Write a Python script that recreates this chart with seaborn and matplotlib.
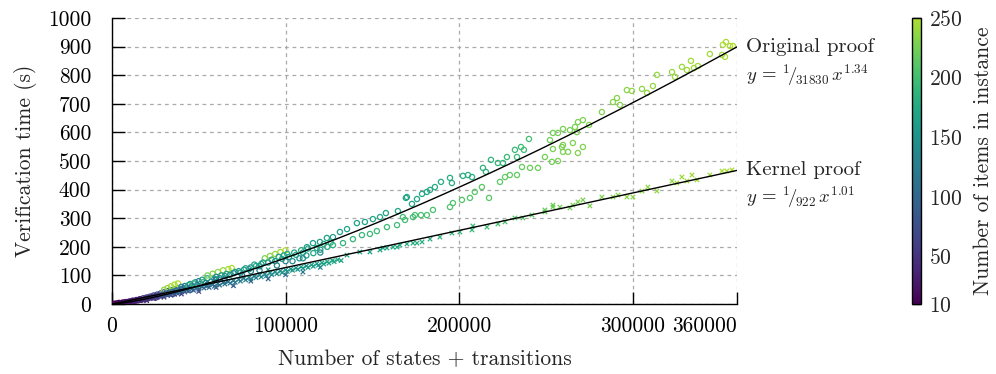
import numpy as np
import pandas as pd
import matplotlib
matplotlib.use("Agg")
import matplotlib.pyplot as plt
from matplotlib.colors import ListedColormap
import seaborn as sns

# ---------------------------------------------------------------
# Data (x = states + transitions,
# y = verification time in s, n = number of items in instance)

# Original proof
orig_x = [1000, 2500, 4000, 6000, 8000, 10000, 12000, 14000, 16000, 18000,
          20000, 22000, 24000, 26000, 28000, 30000, 32000, 34000, 36000, 38000,
          30000, 32000, 34000, 36000, 38000, 40000, 42000, 45000, 48000, 50000,
          52000, 55000, 55000, 58000, 61000, 64000, 67000, 69000, 60000, 63000,
          66000, 70000, 73000, 76000, 80000, 83000, 86000, 88000, 91000, 94000,
          97000, 100000, 90000, 94000, 98000, 102000, 106000, 110000, 104000, 108000,
          112000, 116000, 120000, 124000, 20000, 40000, 60000, 80000, 100000, 120000,
          5000, 7000, 9000, 11000, 13000, 15000, 17000, 19000, 21000, 23000,
          25000, 27000, 29000, 31000, 33000, 35000, 37000, 39000, 41000, 43000,
          44000, 46000, 47000, 49000, 51000, 53000, 54000, 57000, 59000, 62000,
          65000, 68000, 71000, 74000, 77000, 79000, 82000, 85000, 87000, 92000,
          96000, 99000, 101000, 105000, 109000, 113000, 118000, 122000, 126000,
          25000, 35000, 45000, 55000, 65000, 75000, 85000, 95000, 110000,
          # upper branch
          112300, 115800, 119800, 123800, 127300, 131300, 135400, 141100, 145700, 150300,
          154400, 157800, 164700, 169300, 169900, 172800, 175700, 178600, 181400, 183200,
          186000, 189500, 194700, 195800, 202200, 205100, 207400, 213700, 215400, 218300,
          222300, 225200, 227500, 232100, 233300, 235600, 237300, 240200,
          # top end
          252300, 254000, 256900, 259800, 263800, 266700, 267800, 268400, 271300, 274800,
          282200, 288600, 290900, 292600, 296600, 299500, 305300, 308200, 311600, 313900,
          322600, 324300, 328300, 331200, 333500, 335200, 337500, 344400, 351400, 353100,
          351900, 353700, 356000, 357700,
          # lower branch
          127300, 133100, 138800, 144000, 148600, 152600, 158400, 164200, 168800, 174500,
          167600, 173400, 178000, 181400, 184900, 194700, 196400, 201600, 206200, 209000,
          213100, 217200, 223500, 226400, 229200, 233300, 236200, 240800, 245400, 249400,
          253400, 256900, 259800, 262700, 265500, 268400, 259200, 254000, 271300, 259800]
orig_y = [1, 2, 4, 5, 7, 9, 12, 14, 17, 20,
          23, 26, 30, 33, 37, 41, 45, 48, 52, 56,
          50, 56, 62, 68, 72, 60, 63, 70, 76, 80,
          85, 90, 100, 106, 112, 118, 122, 126, 95, 100,
          105, 108, 115, 120, 128, 133, 140, 160, 168, 175,
          182, 188, 145, 150, 158, 165, 172, 180, 150, 160,
          170, 178, 190, 200, 18, 50, 85, 115, 150, 180,
          3, 5, 6, 8, 10, 13, 15, 17, 21, 24,
          27, 30, 32, 36, 40, 43, 47, 50, 54, 58,
          66, 62, 72, 66, 70, 78, 74, 78, 88, 90,
          98, 102, 112, 110, 125, 122, 138, 132, 145, 155,
          165, 170, 175, 180, 188, 194, 196, 210, 215,
          22, 35, 50, 68, 85, 100, 118, 135, 160,
          199, 213, 217, 231, 234, 252, 262, 283, 287, 297,
          304, 318, 325, 371, 374, 350, 367, 385, 392, 399,
          409, 427, 441, 423, 448, 451, 444, 476, 462, 504,
          493, 493, 514, 539, 514, 549, 539, 577,
          573, 598, 598, 612, 608, 619, 601, 636, 643, 626,
          671, 706, 720, 696, 748, 745, 752, 738, 762, 801,
          811, 794, 829, 818, 850, 825, 832, 874, 871, 864,
          906, 916, 902, 902,
          206, 213, 227, 241, 245, 255, 269, 276, 294, 311,
          304, 304, 311, 311, 329, 339, 353, 364, 371, 392,
          409, 371, 427, 444, 451, 451, 479, 476, 476, 514,
          497, 500, 556, 532, 563, 528, 549, 542, 549, 532]
orig_n = [10, 12, 15, 20, 25, 28, 32, 38, 42, 48,
          55, 60, 66, 72, 80, 90, 100, 110, 120, 130,
          235, 240, 245, 248, 250, 135, 110, 140, 150, 120,
          160, 170, 225, 230, 235, 240, 245, 248, 140, 150,
          165, 130, 150, 160, 145, 165, 170, 230, 235, 240,
          245, 250, 150, 160, 170, 155, 175, 165, 140, 150,
          160, 170, 165, 175, 40, 80, 100, 120, 130, 140,
          14, 18, 22, 26, 30, 34, 38, 44, 50, 56,
          62, 68, 74, 82, 90, 96, 104, 110, 116, 122,
          175, 128, 185, 132, 136, 190, 140, 144, 150, 148,
          155, 152, 160, 155, 165, 160, 170, 158, 165, 170,
          168, 162, 170, 172, 175, 172, 178, 176, 180,
          50, 70, 85, 95, 105, 115, 125, 135, 145,
          160, 161, 162, 163, 164, 165, 166, 166, 167, 168,
          168, 169, 170, 170, 171, 172, 172, 173, 174, 175,
          176, 177, 178, 179, 180, 181, 182, 184, 185, 187,
          189, 190, 192, 194, 195, 197, 198, 200,
          222, 223, 224, 225, 226, 227, 227, 228, 229, 230,
          231, 232, 233, 233, 234, 235, 236, 237, 238, 239,
          240, 240, 241, 242, 243, 243, 244, 245, 246, 246,
          247, 248, 249, 250,
          185, 188, 190, 192, 193, 194, 196, 198, 199, 201,
          199, 201, 202, 203, 204, 206, 207, 208, 209, 210,
          211, 212, 214, 215, 216, 217, 219, 220, 221, 223,
          224, 225, 227, 228, 229, 230, 227, 225, 231, 228]

# Kernel proof
kern_x = [1000, 3000, 5000, 7000, 9000, 11000, 13000, 15000, 17000, 19000,
          21000, 23000, 25000, 27000, 29000, 31000, 33000, 35000, 37000, 40000,
          43000, 46000, 49000, 52000, 55000, 58000, 61000, 64000, 67000, 70000,
          73000, 76000, 79000, 82000, 85000, 88000, 91000, 94000, 97000, 100000,
          103000, 106000, 109000, 112000, 115000, 118000, 121000, 124000, 127000, 130000,
          20000, 40000, 60000, 80000, 100000, 30000, 60000, 90000,
          2000, 4000, 6000, 8000, 10000, 12000, 14000, 16000, 18000, 22000,
          24000, 26000, 28000, 32000, 34000, 36000, 38000, 42000, 44000, 47000,
          50000, 53000, 56000, 59000, 62000, 65000, 68000, 71000, 74000, 77000,
          80000, 83000, 86000, 89000, 92000, 95000, 98000, 101000, 104000, 107000,
          110000, 113000, 116000, 119000, 122000, 125000, 128000, 132000,
          30000, 50000, 70000, 90000, 110000, 120000,
          135400, 142800, 148600, 154400, 158400, 164200, 169900, 175700,
          156100, 161900, 165900, 173400, 178600, 183200, 188900, 195800, 200400, 207400,
          207900, 216000, 222300, 226400, 232100, 236700, 241900, 249400, 254000,
          249400, 254000, 258000, 263800, 265500, 268400, 271300, 275300, 282200, 288600,
          291500, 296600, 300100, 305300, 308700, 313900, 322600, 325400, 328300, 331200,
          334100, 337000, 344400, 351400, 354200, 357100]
kern_y = [1, 3, 4, 6, 8, 10, 12, 14, 16, 18,
          21, 23, 26, 28, 30, 33, 35, 38, 40, 44,
          48, 52, 56, 60, 64, 67, 71, 75, 78, 82,
          86, 90, 93, 97, 101, 104, 108, 112, 115, 119,
          122, 126, 130, 133, 137, 141, 144, 148, 152, 155,
          12, 35, 58, 80, 102, 38, 78, 120,
          2, 3, 5, 7, 8, 10, 12, 14, 15, 19,
          22, 23, 25, 30, 31, 34, 36, 42, 45, 48,
          52, 56, 58, 62, 66, 70, 73, 76, 80, 84,
          88, 92, 95, 99, 103, 106, 110, 114, 118, 121,
          125, 128, 132, 136, 140, 143, 148, 152,
          24, 44, 64, 88, 112, 128,
          171, 182, 182, 189, 196, 199, 210, 213,
          196, 199, 206, 213, 217, 227, 234, 248, 252, 259,
          273, 269, 280, 287, 301, 301, 311, 322, 339,
          329, 346, 339, 336, 346, 357, 364, 343, 374, 374,
          381, 374, 374, 395, 409, 395, 430, 423, 444, 430,
          451, 434, 451, 465, 465, 469]
kern_n = [10, 12, 18, 22, 28, 30, 35, 40, 45, 50,
          55, 60, 65, 70, 75, 80, 85, 90, 95, 100,
          90, 105, 110, 100, 115, 120, 110, 125, 130, 120,
          135, 130, 140, 135, 145, 140, 150, 145, 155, 150,
          160, 155, 165, 160, 170, 165, 175, 170, 180, 175,
          35, 60, 80, 95, 110, 120, 150, 165,
          11, 15, 20, 24, 28, 32, 36, 40, 44, 52,
          58, 62, 66, 74, 78, 82, 86, 88, 92, 96,
          98, 102, 104, 108, 112, 114, 118, 122, 124, 128,
          130, 132, 136, 138, 142, 145, 148, 150, 152, 155,
          156, 158, 160, 162, 164, 166, 168, 170,
          55, 75, 90, 105, 120, 135,
          168, 170, 172, 174, 175, 177, 179, 181,
          174, 176, 178, 180, 182, 184, 186, 189, 191, 194,
          196, 199, 202, 205, 208, 211, 214, 218, 221,
          219, 222, 224, 225, 226, 227, 228, 229, 231, 232,
          233, 234, 235, 236, 237, 238, 239, 240, 241, 242,
          243, 244, 245, 246, 247, 248]

# Power fits y = x^b / a (as drawn in the reference)
orig_fit = (31830, 1.342)
kern_fit = (922, 1.014)

cbar_ticks = [10, 50, 100, 150, 200, 250]
x_ticks = [0, 100000, 200000, 300000, 360000]
y_ticks = list(range(0, 1001, 100))

# ---------------------------------------------------------------
sns.set_style("ticks")
plt.rcParams["font.family"] = ["cmr10", "DejaVu Serif"]
plt.rcParams["mathtext.fontset"] = "cm"
plt.rcParams["axes.formatter.use_mathtext"] = True
plt.rcParams["font.size"] = 15

orig = pd.DataFrame({"x": orig_x, "y": orig_y, "n": orig_n})
kern = pd.DataFrame({"x": kern_x, "y": kern_y, "n": kern_n})

# viridis stopping at lime green, like the reference colour bar
cmap = ListedColormap(plt.get_cmap("viridis")(np.linspace(0, 0.88, 256)))
norm = plt.Normalize(10, 250)

fig = plt.figure(figsize=(9.96, 3.74), dpi=100)
ax = fig.add_axes([0.1124, 0.187, 0.6275, 0.765])
cax = fig.add_axes([0.9157, 0.187, 0.009, 0.765])

ax.set_axisbelow(True)
ax.grid(True, color="#aaaaaa", linestyle=(0, (3, 3)), linewidth=0.9)

sns.scatterplot(data=kern, x="x", y="y", hue="n", palette=cmap, hue_norm=norm,
                marker="x", s=10, linewidth=0.9, legend=False, ax=ax, zorder=3)
coll = ax.collections[-1]
coll.set_edgecolors(coll.get_facecolors())

sns.scatterplot(data=orig, x="x", y="y", hue="n", palette=cmap, hue_norm=norm,
                marker="o", s=14, linewidth=0.9, legend=False, ax=ax, zorder=3)
coll = ax.collections[-1]
coll.set_edgecolors(coll.get_facecolors())
coll.set_facecolors("none")

# Fit lines
xs = np.linspace(0, 360000, 300)
for a, b in [orig_fit, kern_fit]:
    sns.lineplot(x=xs, y=xs ** b / a, color="black", linewidth=1, ax=ax, zorder=4)

ax.set_xlim(0, 360000)
ax.set_ylim(0, 1000)
ax.set_xticks(x_ticks)
ax.set_xticklabels([str(t) for t in x_ticks])
ax.get_xticklabels()[-1].set_horizontalalignment("right")
ax.set_yticks(y_ticks)
ax.set_yticklabels([str(t) for t in y_ticks])
ax.tick_params(direction="in", length=9, width=1, colors="black", labelsize=15.5)
ax.tick_params(axis="x", pad=9)
ax.tick_params(axis="y", pad=15)
sns.despine(ax=ax, top=True, right=True)
for side in ["left", "bottom"]:
    ax.spines[side].set_color("black")
    ax.spines[side].set_linewidth(1)

ax.set_xlabel("Number of states + transitions", fontsize=15.5, labelpad=10)
ax.set_ylabel("Verification time (s)", fontsize=15.5, labelpad=8)

# Series annotations at the right end of the fits
ax.text(1.015, 0.9, "Original proof", transform=ax.transAxes, fontsize=15, va="center")
ax.text(1.015, 0.8, r"$y\,=\,{}^{1}\!/\!_{31830}\,x^{1.34}$", transform=ax.transAxes,
        fontsize=13.5, va="center")
ax.text(1.015, 0.47, "Kernel proof", transform=ax.transAxes, fontsize=15, va="center")
ax.text(1.015, 0.375, r"$y\,=\,{}^{1}\!/\!_{922}\,x^{1.01}$", transform=ax.transAxes,
        fontsize=13.5, va="center")

# Colorbar
sm = plt.cm.ScalarMappable(norm=norm, cmap=cmap)
cb = fig.colorbar(sm, cax=cax, ticks=cbar_ticks)
cb.outline.set_edgecolor("black")
cb.outline.set_linewidth(1)
cax.tick_params(direction="in", length=6.5, width=1, color="black", pad=6, labelsize=15.5)
cb.set_label("Number of items in instance", fontsize=15.5, labelpad=8)

fig.savefig("out.png", dpi=100)
